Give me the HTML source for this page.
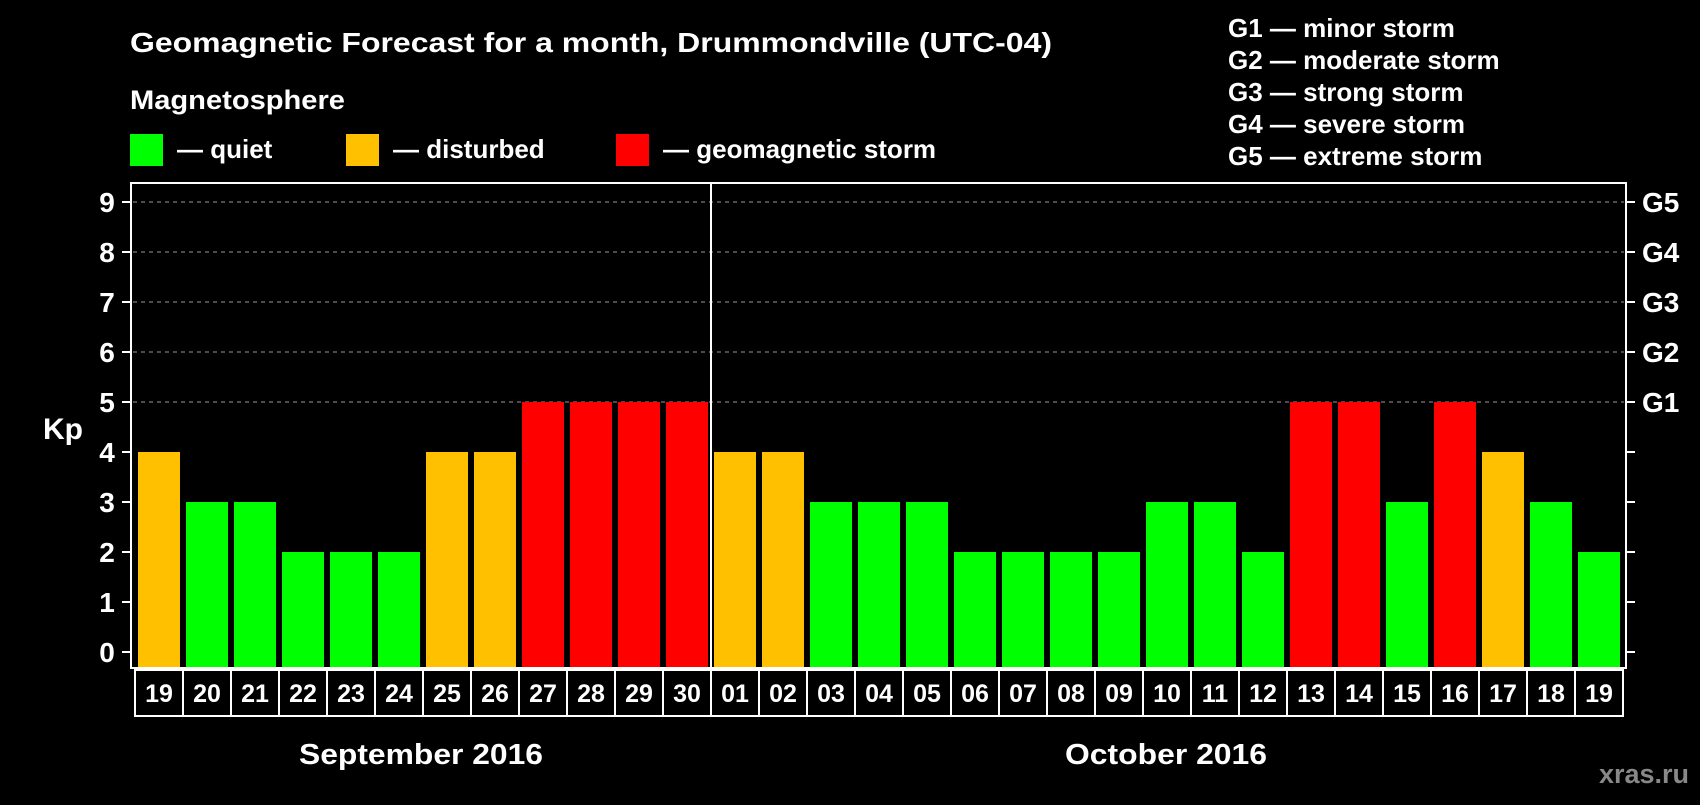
<!DOCTYPE html>
<html><head><meta charset="utf-8"><style>
body{margin:0;background:#000;width:1700px;height:800px;overflow:hidden}
svg text{font-family:"Liberation Sans",sans-serif;font-weight:bold;fill:#fff}
</style></head><body>
<svg id="c" width="1700" height="800">
<text x="130" y="52" font-size="28" textLength="922" lengthAdjust="spacingAndGlyphs">Geomagnetic Forecast for a month, Drummondville (UTC-04)</text>
<text x="130" y="109" font-size="27" textLength="215" lengthAdjust="spacingAndGlyphs">Magnetosphere</text>
<g><rect x="130" y="134" width="33" height="32" fill="#00ff00"/><text x="177" y="158" font-size="26">— quiet</text></g>
<g><rect x="346" y="134" width="33" height="32" fill="#ffc000"/><text x="393" y="158" font-size="26">— disturbed</text></g>
<g><rect x="616" y="134" width="33" height="32" fill="#ff0000"/><text x="663" y="158" font-size="26">— geomagnetic storm</text></g>
<g>
<text x="1228" y="37" font-size="26">G1 — minor storm</text>
<text x="1228" y="69" font-size="26">G2 — moderate storm</text>
<text x="1228" y="101" font-size="26">G3 — strong storm</text>
<text x="1228" y="133" font-size="26">G4 — severe storm</text>
<text x="1228" y="165" font-size="26">G5 — extreme storm</text>
</g>
<text x="63" y="439" font-size="30" text-anchor="middle">Kp</text>
<text x="421" y="764" font-size="29" text-anchor="middle" textLength="244" lengthAdjust="spacingAndGlyphs">September 2016</text>
<text x="1166" y="764" font-size="29" text-anchor="middle" textLength="202" lengthAdjust="spacingAndGlyphs">October 2016</text>
<text x="1689" y="783" font-size="27" text-anchor="end" style="fill:#888">xras.ru</text>
<g id="plot"></g>
</svg>
<script>
const days=["19","20","21","22","23","24","25","26","27","28","29","30","01","02","03","04","05","06","07","08","09","10","11","12","13","14","15","16","17","18","19"];
const kp=[4,3,3,2,2,2,4,4,5,5,5,5,4,4,3,3,3,2,2,2,2,3,3,2,5,5,3,5,4,3,2];
const yTicks=[0,1,2,3,4,5,6,7,8,9];
const gLabels=["","","","","","G1","G2","G3","G4","G5"];
const ns="http://www.w3.org/2000/svg";
const L=131,R=1626,T=183,B=668,y0=652,unit=50,pitch=48,x0=138,bw=42;
const y=v=>y0-v*unit, x=i=>x0+i*pitch;
const g=document.getElementById('plot');
function mk(t,a,p){const e=document.createElementNS(ns,t);for(const k in a)e.setAttribute(k,a[k]);(p||g).appendChild(e);return e;}
yTicks.forEach((v,i)=>{
 if(v>=5){const gl=mk('line',{x1:L+2,x2:R-2,y1:y(v),y2:y(v),stroke:'#999','stroke-dasharray':'4,4','stroke-width':1});
 
 }
 mk('line',{x1:L-9,x2:L,y1:y(v),y2:y(v),stroke:'#fff','stroke-width':2});
 mk('line',{x1:R,x2:R+9,y1:y(v),y2:y(v),stroke:'#fff','stroke-width':2});
 const t=mk('text',{x:107,y:y(v)+10,'font-size':28,'text-anchor':'middle'});t.textContent=v;
 
 
 if(gLabels[i]){const t2=mk('text',{x:1642,y:y(v)+10,'font-size':28});t2.textContent=gLabels[i];
 
 }
});
kp.forEach((v,i)=>{
 const c=v>=5?'#ff0000':v>=4?'#ffc000':'#00ff00';
 const r=mk('rect',{x:x(i),y:y(v),width:bw,height:B-y(v),fill:c});
 
 
 mk('rect',{x:x(i)-3,y:B+2,width:pitch,height:46,fill:'none',stroke:'#fff','stroke-width':2});
 const t=mk('text',{x:x(i)+bw/2,y:B+34,'font-size':25,'text-anchor':'middle'});t.textContent=days[i];
 
 
});
const fr=mk('rect',{x:L,y:T,width:R-L,height:B-T,fill:'none',stroke:'#fff','stroke-width':2});


const div=days.indexOf("01");
const dl=mk('line',{x1:x(div)-3,x2:x(div)-3,y1:T,y2:B,stroke:'#fff','stroke-width':2});


</script>
</body></html>
